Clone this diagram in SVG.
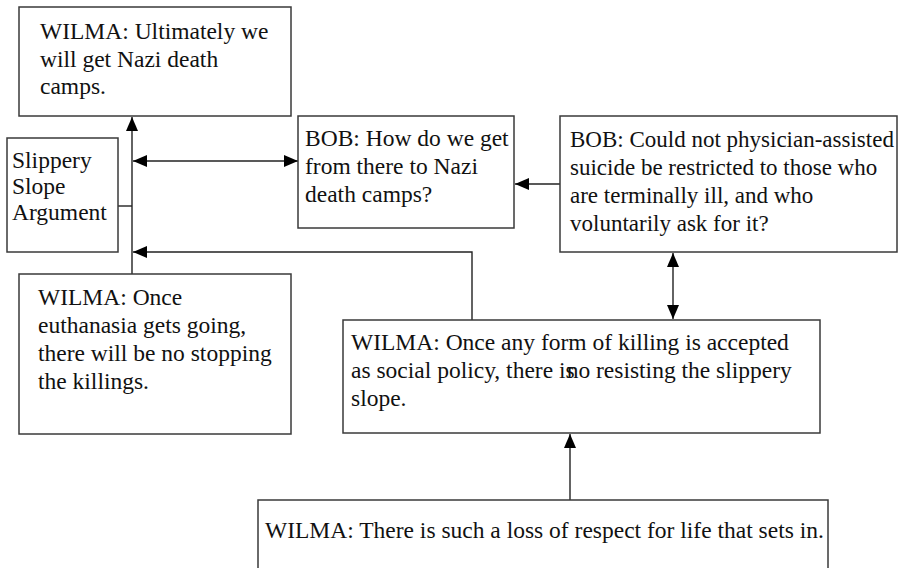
<svg xmlns="http://www.w3.org/2000/svg" width="898" height="568" viewBox="0 0 898 568">
<defs>
<marker id="ah" viewBox="0 0 14 12" markerWidth="14" markerHeight="12" refX="14" refY="6" orient="auto-start-reverse" markerUnits="userSpaceOnUse">
<path d="M0,0 L14,6 L0,12 z" fill="#000"/>
</marker>
<style>
.box{fill:#fff;stroke:#3a3a3a;stroke-width:1.5}
.t{font-family:"Liberation Serif","Times New Roman",serif;font-size:23.5px;fill:#111}
.s{font-size:23px}
.c{fill:none;stroke:#222;stroke-width:1.4}
</style>
</defs>
<rect width="898" height="568" fill="#fff"/>
<g id="connectors">
<path class="c" d="M132,274 V117" marker-end="url(#ah)"/>
<path class="c" d="M118,206 H132"/>
<path class="c" d="M133,161 H298" marker-start="url(#ah)" marker-end="url(#ah)"/>
<path class="c" d="M560,184 H515" marker-end="url(#ah)"/>
<path class="c" d="M673,253 V319" marker-start="url(#ah)" marker-end="url(#ah)"/>
<path class="c" d="M472,320 V252 H133" marker-end="url(#ah)"/>
<path class="c" d="M570,500 V434" marker-end="url(#ah)"/>
</g>
<g id="n1">
<rect class="box" x="19" y="7" width="272" height="109"/>
<text class="t" x="40" y="39">WILMA: Ultimately we</text>
<text class="t" x="40" y="66.5">will get Nazi death</text>
<text class="t" x="40" y="94">camps.</text>
</g>
<g id="n2">
<rect class="box" x="7" y="138" width="111" height="114"/>
<text class="t" x="12" y="168">Slippery</text>
<text class="t" x="12" y="194">Slope</text>
<text class="t" x="12" y="220">Argument</text>
</g>
<g id="n3">
<rect class="box" x="298" y="116" width="216" height="112"/>
<text class="t" x="305" y="146">BOB: How do we get</text>
<text class="t" x="305" y="174">from there to Nazi</text>
<text class="t" x="305" y="202">death camps?</text>
</g>
<g id="n4">
<rect class="box" x="560" y="116" width="337" height="136"/>
<text class="t s" x="570" y="147">BOB: Could not physician-assisted</text>
<text class="t s" x="570" y="175">suicide be restricted to those who</text>
<text class="t s" x="570" y="203">are terminally ill, and who</text>
<text class="t s" x="570" y="231">voluntarily ask for it?</text>
</g>
<g id="n5">
<rect class="box" x="19" y="274" width="272" height="160"/>
<text class="t" x="38" y="305">WILMA: Once</text>
<text class="t" x="38" y="333">euthanasia gets going,</text>
<text class="t" x="38" y="361">there will be no stopping</text>
<text class="t" x="38" y="389">the killings.</text>
</g>
<g id="n6">
<rect class="box" x="343" y="320" width="477" height="113"/>
<text class="t" x="351" y="350">WILMA: Once any form of killing is accepted</text>
<text class="t" x="351" y="378">as social policy, there is<tspan dx="-8">no resisting the slippery</tspan></text>
<text class="t" x="351" y="406">slope.</text>
</g>
<g id="n7">
<rect class="box" x="258" y="500" width="570" height="72"/>
<text class="t" x="265" y="538">WILMA: There is such a loss of respect for life that sets in.</text>
</g>
</svg>
